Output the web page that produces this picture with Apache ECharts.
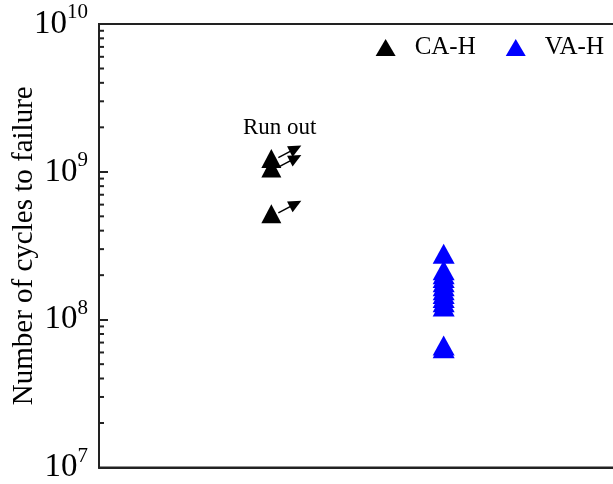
<!DOCTYPE html>
<html>
<head>
<meta charset="utf-8">
<script src="https://cdn.jsdelivr.net/npm/echarts@6/dist/echarts.min.js"></script>
<style>html,body{margin:0;padding:0;background:#fff}#c{width:613px;height:484px}</style>
</head>
<body>
<div id="c"></div>
<script>
// Data
var seriesNames = ['CA-H', 'VA-H'];
var groupPos = [1, 2];           // category positions on the x scale
var caH = [1.23e9, 1.06e9, 5.2e8];   // run-out specimens
var vaH = [2.79e8, 2.16e8, 2.03e8, 1.91e8, 1.79e8, 1.68e8, 1.58e8, 1.49e8, 1.40e8, 1.31e8, 1.23e8, 6.7e7, 6.4e7];
var decades = [7, 8, 9, 10];
var yName = 'Number of cycles to failure';
var runOutLabel = 'Run out';

var minorTicks = [];
for (var i = 0; i < decades.length - 1; i++) {
  for (var k = 2; k <= 9; k++) minorTicks.push(k * Math.pow(10, decades[i]));
}

var FONT = '"Liberation Serif","Times New Roman",serif';
var chart = echarts.init(document.getElementById('c'), null, {renderer: 'canvas'});

chart.setOption({
  animation: false,
  backgroundColor: '#fff',
  grid: {left: 99, right: -3, top: 24, bottom: 16.5, containLabel: false, outerBoundsMode: 'none',
         show: true, borderColor: '#222', borderWidth: 2, backgroundColor: 'transparent'},
  legend: {
    data: seriesNames,
    right: 4, top: 30,
    itemWidth: 20, itemHeight: 17, itemGap: 30,
    textStyle: {fontFamily: FONT, fontSize: 25, color: '#000', padding: [0, 0, 0, 14]}
  },
  xAxis: {
    type: 'value', min: 0, max: 3,
    axisLine: {show: true, lineStyle: {color: '#222', width: 2}},
    axisTick: {show: false}, axisLabel: {show: false}, splitLine: {show: false}
  },
  yAxis: {
    type: 'log', logBase: 10,
    min: Math.pow(10, decades[0]), max: Math.pow(10, decades[decades.length - 1]),
    name: yName, nameLocation: 'middle', nameGap: 60, nameMoveOverlap: false,
    nameTextStyle: {fontFamily: FONT, fontSize: 29, color: '#000'},
    axisLine: {show: true, lineStyle: {color: '#222', width: 2}},
    axisTick: {show: true, inside: true, length: 9, lineStyle: {color: '#222', width: 2}},
    splitLine: {show: false},
    axisLabel: {
      showMinLabel: true, showMaxLabel: true, margin: 11,
      formatter: function (v) { return '{b|10}{s|' + Math.round(Math.log10(v)) + '}'; },
      rich: {
        b: {fontFamily: FONT, fontSize: 33, color: '#000', lineHeight: 44},
        s: {fontFamily: FONT, fontSize: 21, color: '#000', lineHeight: 20, verticalAlign: 'top'}
      }
    }
  },
  graphic: [{
    type: 'text', left: 243, top: 116,
    style: {text: runOutLabel, fontFamily: FONT, fontSize: 23, fill: '#000'}
  }],
  series: [
    {
      name: seriesNames[0], type: 'scatter', symbol: 'triangle', symbolSize: [20, 19],
      itemStyle: {color: '#000', opacity: 1},
      data: caH.map(function (v) { return [groupPos[0], v]; }), z: 3
    },
    {
      name: seriesNames[1], type: 'scatter', symbol: 'triangle', symbolSize: [22, 20],
      itemStyle: {color: '#0000ff', opacity: 1},
      data: vaH.map(function (v) { return [groupPos[1], v]; }), z: 3
    },
    {
      name: 'arrows', type: 'custom', silent: true, z: 4,
      data: caH.map(function (v) { return [groupPos[0], v]; }),
      renderItem: function (params, api) {
        var c = api.coord([api.value(0), api.value(1)]);
        var sx = c[0] + 7, sy = c[1] - 1;
        var tx = c[0] + 30, ty = c[1] - 13;
        var dx = tx - sx, dy = ty - sy, L = Math.sqrt(dx * dx + dy * dy);
        var ux = dx / L, uy = dy / L, px = -uy, py = ux;
        var hl = 13, hw = 6;
        var bx = tx - ux * hl, by = ty - uy * hl;
        return {type: 'group', children: [
          {type: 'line', shape: {x1: sx, y1: sy, x2: bx + ux * 2, y2: by + uy * 2}, style: {stroke: '#000', lineWidth: 1.5}},
          {type: 'polygon', shape: {points: [[tx, ty], [bx + px * hw, by + py * hw], [bx - px * hw, by - py * hw]]}, style: {fill: '#000'}}
        ]};
      }
    },
    {
      name: 'minorTicks', type: 'custom', silent: true, z: 5, clip: false,
      data: minorTicks.map(function (v) { return [0, v]; }),
      renderItem: function (params, api) {
        var c = api.coord([0, api.value(1)]);
        return {type: 'line', shape: {x1: c[0], y1: c[1], x2: c[0] + 5, y2: c[1]}, style: {stroke: '#222', lineWidth: 2}};
      }
    }
  ]
});
</script>
</body>
</html>
